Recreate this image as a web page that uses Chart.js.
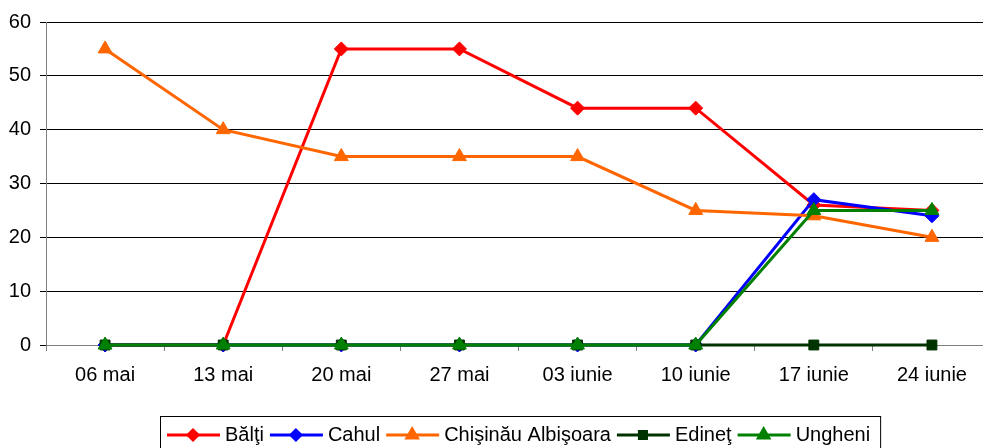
<!DOCTYPE html>
<html>
<head>
<meta charset="utf-8">
<script src="https://cdn.jsdelivr.net/npm/chart.js@4/dist/chart.umd.min.js"></script>
<style>
  html, body { margin: 0; padding: 0; background: #fff; overflow: hidden; }
  #wrap { position: absolute; left: 0; top: 0; width: 1000px; height: 460px; }
</style>
</head>
<body>
<div id="wrap"><canvas id="chart" width="1000" height="460"></canvas></div>
<script>
// saptamanile (categorii)
const weeks = ['06 mai', '13 mai', '20 mai', '27 mai', '03 iunie', '10 iunie', '17 iunie', '24 iunie'];
const yTicks = [0, 10, 20, 30, 40, 50, 60];

const balti     = [0, 0, 55, 55, 44, 44, 26, 25];
const cahul     = [0, 0, 0, 0, 0, 0, 27, 24];
const chisinau  = [55, 40, 35, 35, 35, 25, 24, 20];
const edinet    = [0, 0, 0, 0, 0, 0, 0, 0];
const ungheni   = [0, 0, 0, 0, 0, 0, 25, 25];

const FONT = '"Liberation Sans", Arial, sans-serif';

function series(label, data, color, style, radius, order) {
  return {
    label: label, data: data,
    borderColor: color, backgroundColor: color,
    pointBackgroundColor: color, pointBorderColor: color,
    borderWidth: 3, pointStyle: style, pointRadius: radius, pointHoverRadius: radius,
    pointBorderWidth: 1, tension: 0, order: order, clip: false
  };
}

const datasets = [
  series('Bălţi', balti, '#ff0000', 'rectRot', 7, 4),
  series('Cahul', cahul, '#0000ff', 'rectRot', 7, 3),
  series('Chişinău Albişoara', chisinau, '#ff6600', 'triangle', 8, 2),
  series('Edineţ', edinet, '#003300', 'rect', 7, 1),
  series('Ungheni', ungheni, '#008000', 'triangle', 8, 0)
];

// legenda desenata in caseta, ca in Excel
const boxLegend = {
  id: 'boxLegend',
  afterDraw(chart) {
    const ctx = chart.ctx;
    ctx.save();
    ctx.font = '20px ' + FONT;
    const top = 416, midY = 435;
    let x = 167;
    datasets.forEach(d => {
      ctx.strokeStyle = d.borderColor;
      ctx.lineWidth = 3;
      ctx.beginPath(); ctx.moveTo(x, midY); ctx.lineTo(x + 53, midY); ctx.stroke();
      ctx.fillStyle = d.borderColor;
      Chart.helpers.drawPoint(ctx, { pointStyle: d.pointStyle, radius: d.pointRadius - 2, borderWidth: 1 }, x + 26, midY);
      ctx.fill();
      ctx.fillStyle = '#000';
      ctx.textBaseline = 'middle';
      ctx.fillText(d.label, x + 58, midY);
      x += 58 + ctx.measureText(d.label).width + 6;
    });
    ctx.strokeStyle = '#000';
    ctx.lineWidth = 1;
    ctx.strokeRect(160.5, top + 0.5, x + 4 - 160, 40);
    ctx.restore();
  }
};

new Chart(document.getElementById('chart'), {
  type: 'line',
  data: { labels: weeks, datasets: datasets },
  options: {
    responsive: false,
    animation: false,
    layout: { padding: { top: 22, right: 6, left: 0, bottom: 0 } },
    plugins: { legend: { display: false }, tooltip: { enabled: false } },
    scales: {
      x: {
        offset: true,
        grid: { offset: true, drawOnChartArea: false, color: '#808080', tickLength: 6 },
        border: { color: '#808080', width: 1 },
        ticks: { color: '#000', font: { family: FONT, size: 20 }, padding: 12, maxRotation: 0 },
        afterFit(s) { s.height = 115; }
      },
      y: {
        min: 0, max: 60,
        afterBuildTicks(s) { s.ticks = yTicks.map(v => ({ value: v })); },
        grid: { color: '#000', lineWidth: 1, tickLength: 6 },
        border: { color: '#808080', width: 1 },
        ticks: { color: '#000', font: { family: FONT, size: 20 }, padding: 9 },
        afterFit(s) { s.width = 46; }
      }
    }
  },
  plugins: [boxLegend]
});
</script>
</body>
</html>
